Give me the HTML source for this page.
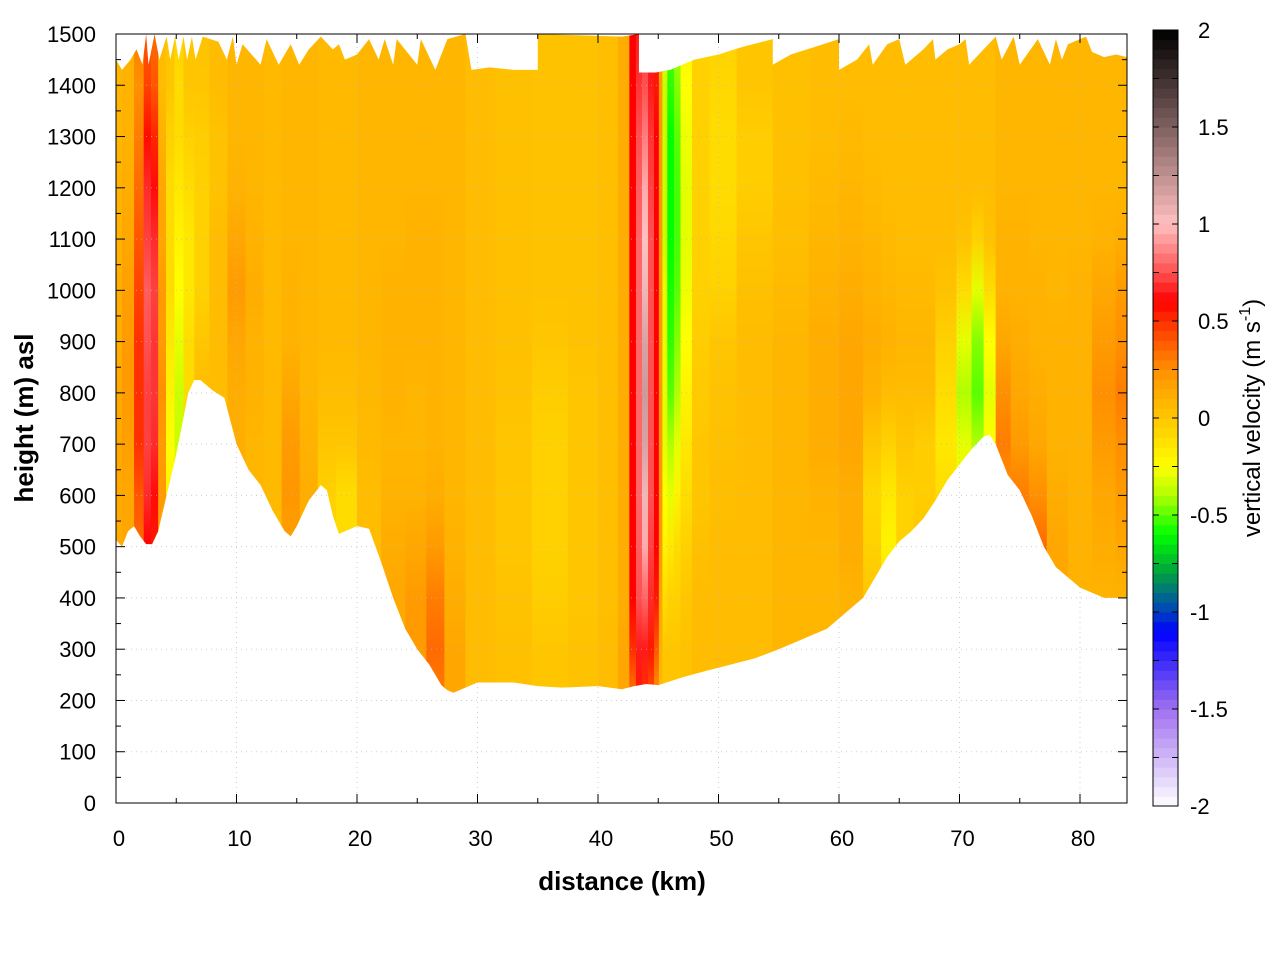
<!DOCTYPE html>
<html><head><meta charset="utf-8">
<style>
body{margin:0;background:#fff;}
svg{display:block;font-family:"Liberation Sans",sans-serif;}
</style></head>
<body>
<svg id="chart" width="1280" height="960" viewBox="0 0 1280 960" xmlns="http://www.w3.org/2000/svg">
<defs id="defs"></defs>
<g id="field"></g>
<g id="grid"></g>
<g id="axes"></g>
<g id="cbar"></g>
</svg>
<script>
const heights = [200,300,400,500,600,700,800,900,1000,1100,1200,1300,1400,1500];
const distances = [0,1,2,2.6,3.2,3.8,4.5,5.2,6,7,8.5,10,11.5,13,14.5,16,17.5,19,21,23,25,26.5,28,30,33,36,39,41,42.3,42.9,43.4,43.9,44.4,44.9,45.2,45.5,46,46.6,47.1,48.5,50,53,56,59,61,63,64,65.5,67,69,70.5,71.5,72.5,73.5,75,76.5,78,80,82,83.9];
const velocity = [
[.12,.12,.12,.12,.14,.15,.14,.12,.12,.1,.1,.08,.08,.08],
[.15,.15,.15,.15,.15,.18,.2,.2,.18,.15,.12,.1,.1,.1],
[.3,.3,.3,.35,.4,.5,.5,.5,.45,.4,.35,.3,.25,.3],
[.45,.45,.5,.6,.68,.72,.72,.75,.78,.72,.68,.58,.45,.4],
[.4,.4,.45,.55,.62,.68,.7,.7,.72,.68,.62,.52,.4,.35],
[.1,.1,.1,.15,.2,.2,.25,.2,.2,.15,.15,.1,.05,.05],
[-.1,-.1,-.1,-.15,-.2,-.25,-.2,-.15,-.1,-.1,-.1,-.05,0,0],
[-.2,-.2,-.2,-.2,-.3,-.35,-.35,-.3,-.25,-.2,-.15,-.1,-.1,-.05],
[0,0,0,0,0,-.05,-.1,-.1,-.15,-.15,-.1,-.05,0,0],
[.05,.05,.05,.05,.05,.05,.05,0,-.05,-.05,-.05,-.03,0,.02],
[.05,.05,.05,.05,.05,.05,.05,.05,.05,.05,.02,.02,.05,.05],
[.1,.1,.1,.1,.1,.12,.12,.15,.2,.15,.1,.08,.08,.08],
[.08,.08,.08,.08,.08,.08,.1,.1,.12,.1,.08,.08,.08,.08],
[.05,.05,.05,.05,.06,.06,.06,.06,.06,.06,.06,.06,.06,.06],
[.15,.15,.15,.18,.22,.2,.15,.1,.1,.08,.08,.08,.08,.08],
[.1,.1,.1,.1,.12,.1,.08,.08,.08,.08,.08,.08,.08,.08],
[0,0,0,-.05,-.05,0,.05,.06,.06,.06,.06,.06,.06,.06],
[-.05,-.05,-.05,-.1,-.1,0,.05,.06,.06,.06,.06,.06,.06,.06],
[.05,.05,.05,.05,.05,.06,.07,.08,.08,.08,.08,.08,.08,.08],
[.1,.12,.15,.12,.1,.08,.1,.1,.1,.08,.08,.08,.08,.08],
[.15,.2,.2,.15,.1,.08,.08,.1,.1,.1,.08,.08,.08,.08],
[.3,.35,.3,.2,.12,.1,.1,.1,.1,.1,.08,.08,.08,.08],
[.15,.15,.12,.1,.08,.08,.08,.08,.08,.08,.08,.08,.08,.08],
[.05,.05,.05,.05,.05,.05,.05,.05,.05,.05,.05,.05,.05,.05],
[.03,.03,.02,.0,.0,.0,.02,.03,.03,.03,.03,.03,.03,.03],
[0,0,-.03,-.05,-.05,-.05,-.03,0,.02,.02,.02,.02,.02,.02],
[.02,.02,0,0,0,0,0,.02,.02,.02,.02,.02,.02,.02],
[.05,.05,.04,.04,.04,.04,.04,.04,.04,.04,.04,.04,.04,.04],
[.15,.15,.12,.12,.12,.12,.12,.12,.12,.12,.12,.12,.12,.12],
[.3,.5,.6,.6,.6,.6,.6,.6,.6,.6,.6,.6,.6,.6],
[.55,.65,.75,.78,.8,.8,.8,.8,.8,.8,.78,.75,.7,.65],
[.5,.65,.8,.95,1.05,1.15,1.2,1.15,1.05,1.0,.95,.85,.75,.7],
[.4,.55,.68,.72,.75,.75,.75,.75,.75,.75,.72,.7,.65,.65],
[.2,.4,.55,.6,.6,.6,.6,.6,.6,.6,.6,.6,.55,.55],
[.05,.1,.15,.2,.2,.2,.2,.2,.2,.2,.2,.2,.2,.2],
[0,0,-.1,-.2,-.25,-.3,-.3,-.3,-.3,-.35,-.35,-.35,-.35,-.3],
[0,0,-.05,-.15,-.3,-.4,-.5,-.55,-.58,-.6,-.6,-.6,-.55,-.5],
[0,0,-.05,-.1,-.2,-.3,-.4,-.45,-.5,-.52,-.52,-.5,-.45,-.4],
[.02,.02,0,-.05,-.1,-.15,-.2,-.25,-.28,-.3,-.3,-.28,-.25,-.2],
[.05,.05,.05,.03,0,0,-.02,-.03,-.05,-.05,-.05,-.05,-.05,-.05],
[.05,.05,.05,.05,.04,.03,.02,.0,-.05,-.08,-.1,-.1,-.08,-.05],
[.05,.05,.05,.05,.05,.05,.05,.05,.03,0,-.03,-.03,0,0],
[.08,.08,.08,.08,.08,.08,.08,.08,.06,.04,.03,.03,.03,.03],
[.08,.08,.08,.08,.1,.12,.12,.12,.1,.08,.06,.05,.05,.05],
[.1,.1,.1,.12,.12,.15,.15,.15,.12,.1,.08,.06,.05,.05],
[0,0,0,-.05,-.08,0,.1,.12,.1,.08,.06,.05,.05,.05],
[-.05,-.05,-.1,-.2,-.15,-.05,.05,.1,.08,.06,.05,.05,.05,.05],
[0,0,0,-.05,-.05,0,.05,.08,.06,.05,.05,.05,.05,.05],
[0,0,0,0,-.03,-.03,.05,.08,.06,.05,.05,.05,.05,.05],
[-.05,-.05,-.05,-.05,-.1,-.15,-.1,-.05,.02,.05,.05,.05,.05,.05],
[-.15,-.15,-.15,-.15,-.2,-.3,-.4,-.3,-.1,.02,.05,.05,.05,.05],
[-.3,-.3,-.3,-.3,-.3,-.4,-.5,-.45,-.3,-.05,.05,.05,.05,.05],
[-.2,-.2,-.2,-.2,-.2,-.25,-.3,-.25,-.1,.02,.05,.05,.05,.05],
[.2,.2,.2,.2,.25,.3,.25,.15,.1,.1,.08,.08,.08,.08],
[.25,.25,.25,.3,.3,.2,.15,.12,.1,.1,.08,.08,.08,.08],
[.3,.3,.35,.35,.25,.15,.12,.1,.1,.08,.08,.08,.08,.08],
[.15,.15,.15,.15,.12,.1,.1,.1,.08,.08,.08,.08,.08,.08],
[.1,.1,.1,.1,.1,.1,.1,.1,.1,.08,.08,.08,.08,.08],
[.1,.1,.1,.12,.15,.2,.25,.2,.15,.1,.08,.08,.08,.08],
[.1,.1,.1,.15,.2,.25,.3,.25,.2,.12,.08,.08,.08,.08]
];
const groundKm = [0,0.5,1,1.5,2,2.5,3,3.5,4,5,6,6.5,7,8,9,10,11,12,13,14,14.5,15,16,17,17.5,18,18.5,19,20,21,22,23,24,25,26,27,27.5,28,29,30,31,33,35,37,40,42,43,44,45,47,49,51,53,55,57,59,60,61,62,63,64,65,66,67,68,69,70,71,72,72.5,73,74,75,76,77,78,79,80,81,82,83,83.9];
const groundH = [513,500,530,540,520,505,505,530,580,680,800,825,825,805,790,700,650,620,570,530,520,540,590,620,610,560,525,530,540,535,470,400,340,300,270,230,220,215,225,235,235,235,228,225,228,222,228,232,230,245,258,270,282,300,320,340,360,380,400,440,480,510,530,555,590,630,660,690,715,718,700,640,610,560,500,460,440,420,410,400,400,400];
const topKm = [0,0.5,1.2,1.7,2.2,2.5,2.7,3.2,3.6,4.2,4.5,4.9,5.2,5.6,5.9,6.3,6.6,7.2,8.5,9.2,9.7,10,10.5,12,12.5,13.5,14.5,15.2,16,17,18,18.5,19,20,21,21.8,22.3,23,23.3,25,25.3,26.5,27.5,29,29.5,31,33,35,35,42,43.4,43.4,44.8,46,48,50,52,54.5,54.5,56,58,60,60,61.5,62.5,62.8,64,65,65.5,67,67.8,68,69,70,70.5,70.8,72,73,73.5,74.5,75,76.5,77.5,78,78.5,79,80.5,81,82,83,83.9];
const topH = [1450,1430,1450,1470,1440,1500,1440,1500,1450,1495,1450,1495,1450,1495,1450,1495,1450,1495,1485,1450,1495,1440,1480,1440,1490,1440,1480,1440,1470,1495,1470,1480,1450,1460,1490,1450,1490,1440,1490,1440,1490,1430,1490,1500,1430,1435,1430,1430,1500,1495,1500,1425,1425,1430,1450,1460,1475,1490,1440,1460,1475,1490,1430,1450,1480,1440,1480,1490,1440,1470,1490,1450,1470,1480,1490,1440,1470,1495,1450,1495,1440,1490,1440,1490,1450,1480,1495,1465,1455,1460,1455];
const xTicks = [0,10,20,30,40,50,60,70,80];
const yTicks = [0,100,200,300,400,500,600,700,800,900,1000,1100,1200,1300,1400,1500];
const cbTicks = [2,1.5,1,0.5,0,-0.5,-1,-1.5,-2];
const cmapV = [-2,-1.5,-1.1,-1,-0.8,-0.6,-0.4,-0.25,-0.1,0,0.1,0.25,0.5,0.6,0.75,1,1.25,1.5,2];
const cmapC = ['#ffffff','#a070f0','#0000ff','#0040c0','#00a040','#00ff00','#b0ff00','#ffff00','#ffdc00','#ffc600','#ffb200','#ff9000','#ff3000','#ff0000','#ff5050','#ffc0c0','#c09090','#806060','#000000'];

const NS='http://www.w3.org/2000/svg';
const X0=116,X1=1127,KM1=83.9,Y0=803,Y1=34;
const xs=k=>X0+k*(X1-X0)/KM1;
const ys=h=>Y0-h*(Y0-Y1)/1500;
function hex(c){return [1,3,5].map(i=>parseInt(c.substr(i,2),16));}
function color(v){
  if(v<=cmapV[0])return cmapC[0];
  for(let i=1;i<cmapV.length;i++){if(v<=cmapV[i]){const t=(v-cmapV[i-1])/(cmapV[i]-cmapV[i-1]);const a=hex(cmapC[i-1]),b=hex(cmapC[i]);return 'rgb('+a.map((x,j)=>Math.round(x+(b[j]-x)*t)).join(',')+')';}}
  return cmapC[cmapC.length-1];
}
function mk(tag,attrs,parent){const e=document.createElementNS(NS,tag);for(const k in attrs)e.setAttribute(k,attrs[k]);parent.appendChild(e);return e;}
const defs=document.getElementById('defs');
let pts=groundKm.map((k,i)=>xs(k)+','+ys(groundH[i]));
for(let i=topKm.length-1;i>=0;i--)pts.push(xs(topKm[i])+','+ys(topH[i]));
const cp=mk('clipPath',{id:'terrain'},defs);
mk('polygon',{points:pts.join(' ')},cp);
const field=document.getElementById('field');
field.setAttribute('clip-path','url(#terrain)');
distances.forEach((d,i)=>{
  const g=mk('linearGradient',{id:'g'+i,gradientUnits:'userSpaceOnUse',x1:0,x2:0,y1:ys(heights[0]),y2:ys(heights[heights.length-1])},defs);
  velocity[i].forEach((v,j)=>mk('stop',{offset:(j/(heights.length-1)),'stop-color':color(v)},g));
  const l=i==0?xs(0):(xs(distances[i-1])+xs(d))/2;
  const r=i==distances.length-1?xs(KM1):(xs(distances[i+1])+xs(d))/2;
  const rc=mk('rect',{x:l,y:Y1,width:r-l+0.6,height:Y0-Y1,fill:'url(#g'+i+')'},field);
  
  
});
const grid=document.getElementById('grid');
xTicks.slice(1).forEach(t=>mk('line',{x1:xs(t),x2:xs(t),y1:Y0,y2:Y1,stroke:'#bbb','stroke-width':1,'stroke-dasharray':'1,4',opacity:0.7},grid));
yTicks.slice(1,-1).forEach(t=>mk('line',{x1:X0,x2:X1,y1:ys(t),y2:ys(t),stroke:'#bbb','stroke-width':1,'stroke-dasharray':'1,4',opacity:0.7},grid));
const ax=document.getElementById('axes');
mk('rect',{x:X0,y:Y1,width:X1-X0,height:Y0-Y1,fill:'none',stroke:'#000','stroke-width':1},ax);
for(let k=0;k<=KM1;k+=5){const big=k%10==0,L=big?9:5;
  mk('line',{x1:xs(k),x2:xs(k),y1:Y0,y2:Y0-L,stroke:'#000'},ax);
  mk('line',{x1:xs(k),x2:xs(k),y1:Y1,y2:Y1+L,stroke:'#000'},ax);}
for(let h=0;h<=1500;h+=50){const big=h%100==0,L=big?9:5;
  mk('line',{x1:X0,x2:X0+L,y1:ys(h),y2:ys(h),stroke:'#000'},ax);
  mk('line',{x1:X1,x2:X1-L,y1:ys(h),y2:ys(h),stroke:'#000'},ax);}
xTicks.forEach(t=>{const e=mk('text',{x:xs(t)+3,y:846,'font-size':22,'text-anchor':'middle'},ax);e.textContent=t;
  
  });
yTicks.forEach(t=>{const e=mk('text',{x:96,y:ys(t)+8,'font-size':22,'text-anchor':'end'},ax);e.textContent=t;
  
  });
const xt=mk('text',{x:622,y:890,'font-size':26,'font-weight':'bold','text-anchor':'middle'},ax);xt.textContent='distance (km)';


const yt=mk('text',{x:33,y:418,'font-size':26,'font-weight':'bold','text-anchor':'middle',transform:'rotate(-90 33 418)'},ax);yt.textContent='height (m) asl';


const cb=document.getElementById('cbar');
const CB0=30,CB1=806,CX=1153,CW=25;
const cy=v=>CB1-(v+2)*(CB1-CB0)/4;
const nb=80;
for(let i=0;i<nb;i++){const v0=-2+4*i/nb,v1=-2+4*(i+1)/nb;
  mk('rect',{x:CX,y:cy(v1),width:CW,height:cy(v0)-cy(v1)+0.5,fill:color((v0+v1)/2)},cb);}
mk('rect',{x:CX,y:CB0,width:CW,height:CB1-CB0,fill:'none',stroke:'#000'},cb);
for(let v=-2;v<=2;v+=0.25){mk('line',{x1:CX,x2:CX+6,y1:cy(v),y2:cy(v),stroke:'#000'},cb);mk('line',{x1:CX+CW,x2:CX+CW-6,y1:cy(v),y2:cy(v),stroke:'#000'},cb);}
cbTicks.forEach(t=>{const e=mk('text',{x:t<0?1190:1198,y:cy(t)+8,'font-size':22},cb);e.textContent=t;
  
  });
const ct=mk('text',{x:1260,y:418,'font-size':24,'text-anchor':'middle',transform:'rotate(-90 1260 418)'},cb);
ct.innerHTML='vertical velocity (m s<tspan dy="-10" font-size="16">-1</tspan><tspan dy="10">)</tspan>';


</script>
</body></html>
